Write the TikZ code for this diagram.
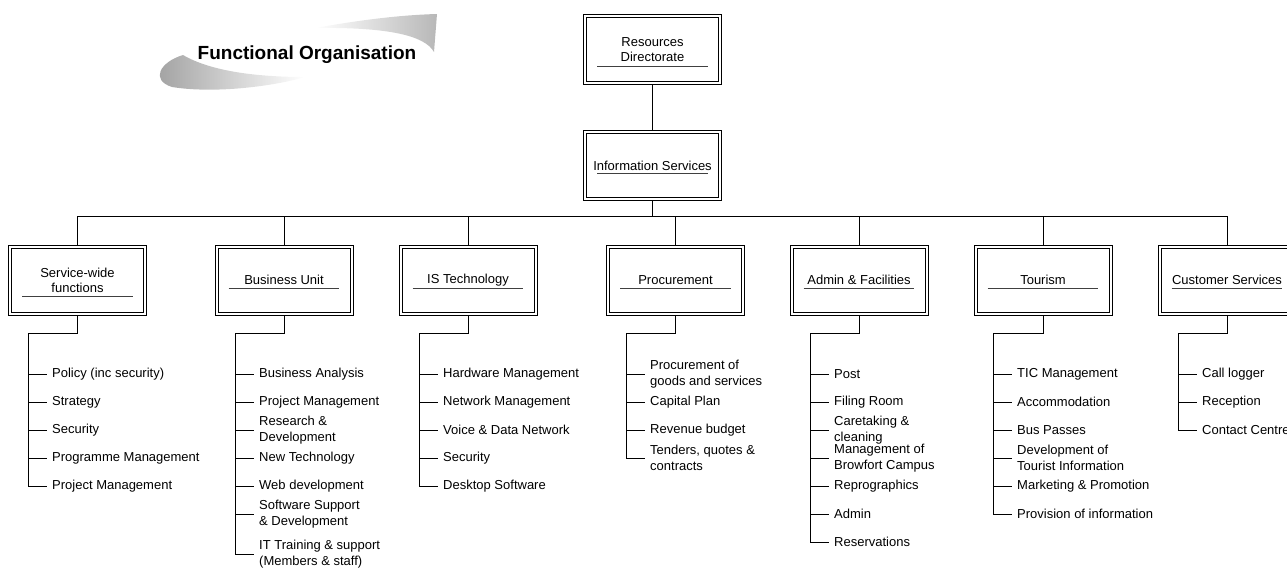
\documentclass[tikz,border=0pt]{standalone}
\usepackage{fontspec}
\setmainfont{Liberation Sans}
\usetikzlibrary{calc}
\usetikzlibrary{positioning}

\begin{document}
\begin{tikzpicture}[x=1pt,y=-1pt]
  % Styles for boxes, underlines, connectors and list entries
  \tikzstyle{unit}=[draw, line width=0.9pt, minimum width=138pt, minimum height=70pt, align=center, inner sep=0pt, font=\fontsize{13}{15}\selectfont]
  \tikzstyle{inner}=[line width=0.9pt]
  \tikzstyle{uline}=[line width=0.9pt, black!75]
  \tikzstyle{link}=[line width=1pt]
  \tikzstyle{item}=[anchor=west, inner sep=0pt, align=left, font=\fontsize{13}{15.5}\selectfont]

  % Page frame
  \path[use as bounding box, clip] (0,0) rectangle (1287,568);

  % Title with the grey swoosh
  \shade[left color=black!38, right color=white] (305,77) .. controls (260,77) and (212,72) .. (183,55) .. controls (160,62) and (150,80) .. (172,87) .. controls (215,94) and (275,86) .. (305,77) -- cycle;
  \shade[left color=white, right color=black!28] (315,28) .. controls (360,20) and (400,15) .. (437,14) -- (434,52) .. controls (425,36) and (390,27) .. (315,28) -- cycle;
  \node[font=\fontsize{19}{22}\selectfont\bfseries, anchor=base] (title) at (307,59.3) {Functional Organisation};

  % Top of the hierarchy
  \node[unit] (res) at (652.5,49.5) {Resources\\Directorate};
  \draw[inner] ($(res.north west)+(3.4,3.4)$) rectangle ($(res.south east)+(-3.4,-3.4)$);
  \draw[uline] ($(res.west)+(14,16.5)$) -- ($(res.east)+(-14,16.5)$);
  \node[unit] (info) at (652.5,165.5) {Information Services};
  \draw[inner] ($(info.north west)+(3.4,3.4)$) rectangle ($(info.south east)+(-3.4,-3.4)$);
  \draw[uline] ($(info.west)+(14,8)$) -- ($(info.east)+(-14,8)$);
  \draw[link] (res) -- (info);
  \coordinate (bus) at (652.5,216);
  \draw[link] (info) -- (bus);

  % Departments
  \foreach \n/\x/\t/\u in {sw/77.5/{Service-wide\\functions}/16, bu/284/Business Unit/8, ist/468/IS Technology/8, proc/675.5/Procurement/8, adm/859/Admin \& Facilities/8, tour/1043/Tourism/8, cust/1227/Customer Services/8} {
    \node[unit] (\n) at (\x,280) {\t};
    \draw[inner] ($(\n.north west)+(3.4,3.4)$) rectangle ($(\n.south east)+(-3.4,-3.4)$);
    \draw[uline] ($(\n.west)+(14,\u)$) -- ($(\n.east)+(-14,\u)$);
    \draw[link] (bus) -| (\n.north);
  }

  % Service-wide functions
  \foreach \i/\y/\t in {1/374/Policy (inc security), 2/402/Strategy, 3/430/Security, 4/458/Programme Management, 5/486/Project Management}
    \node[item] (sw\i) at (52,\y) {\t};

  % Business Unit
  \foreach \i/\y/\t in {1/374/Business Analysis, 2/402/Project Management, 3/430/{Research \&\\Development}, 4/458/New Technology, 5/486/Web development, 6/514/{Software Support\\\& Development}, 7/554/{IT Training \& support\\(Members \& staff)}}
    \node[item] (bu\i) at (259,\y) {\t};

  % IS Technology
  \foreach \i/\y/\t in {1/374/Hardware Management, 2/402/Network Management, 3/430/Voice \& Data Network, 4/458/Security, 5/486/Desktop Software}
    \node[item] (ist\i) at (443,\y) {\t};

  % Procurement
  \foreach \i/\y/\t in {1/374/{Procurement of\\goods and services}, 2/402/Capital Plan, 3/430/Revenue budget, 4/458/{Tenders, quotes \&\\contracts}}
    \node[item] (proc\i) at (650,\y) {\t};

  % Admin & Facilities
  \foreach \i/\y/\t in {1/374/Post, 2/402/Filing Room, 3/430/{Caretaking \&\\cleaning}, 4/458/{Management of\\Browfort Campus}, 5/486/Reprographics, 6/514/Admin, 7/542/Reservations}
    \node[item] (adm\i) at (834,\y) {\t};

  % Tourism
  \foreach \i/\y/\t in {1/374/TIC Management, 2/402/Accommodation, 3/430/Bus Passes, 4/458/{Development of\\Tourist Information}, 5/486/Marketing \& Promotion, 6/514/Provision of information}
    \node[item] (tour\i) at (1017,\y) {\t};

  % Customer Services
  \foreach \i/\y/\t in {1/374/Call logger, 2/402/Reception, 3/430/Contact Centre}
    \node[item] (cust\i) at (1202,\y) {\t};

  % Spines and ticks of the lists
  \foreach \n/\k in {sw/5, bu/7, ist/5, proc/4, adm/7, tour/6, cust/3} {
    \draw[link] (\n.south) -- ++(0,18) -| ([xshift=-24pt]\n\k.west) -- ([xshift=-5pt]\n\k.west);
    \foreach \i in {1,...,\k}
      \draw[link] ([xshift=-24pt]\n\i.west) -- ([xshift=-5pt]\n\i.west);
  }
\end{tikzpicture}
\end{document}
